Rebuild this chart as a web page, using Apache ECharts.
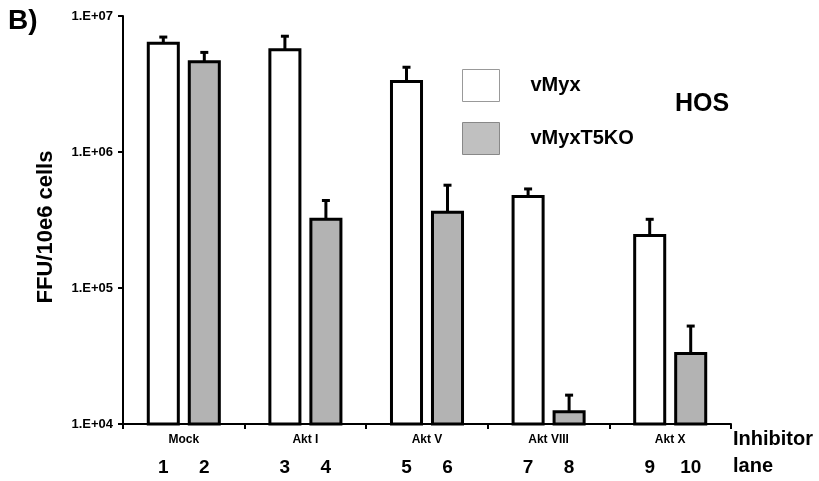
<!DOCTYPE html>
<html>
<head>
<meta charset="utf-8">
<script src="https://cdn.jsdelivr.net/npm/echarts@6/dist/echarts.min.js"></script>
<style>
  html, body { margin: 0; padding: 0; background: #fff; }
  #main { width: 819px; height: 481px; }
</style>
</head>
<body>
<div id="main"></div>
<script>
  // data
  const categories = ['Mock', 'Akt I', 'Akt V', 'Akt VIII', 'Akt X']
  const vMyx = [6.3e6, 5.65e6, 3.3e6, 4.7e5, 2.43e5]
  const vMyxSd = [0.7e6, 1.45e6, 0.9e6, 0.65e5, 0.77e5]
  const vMyxT5KO = [4.6e6, 3.2e5, 3.6e5, 1.23e4, 3.3e4]
  const vMyxT5KOSd = [0.8e6, 1.2e5, 2.1e5, 0.4e4, 1.95e4]
  const lanesA = ['1', '3', '5', '7', '9']
  const lanesB = ['2', '4', '6', '8', '10']
  const yTickLabels = { 4: '1.E+04', 5: '1.E+05', 6: '1.E+06', 7: '1.E+07' }
  const yMin = 1e4
  const yMax = 1e7

  const FONT = "'Liberation Sans', Arial, sans-serif"

  function makeData(vals, sds) {
    return vals.map((v, i) => [i, v, v + sds[i]])
  }

  // grouped bar with upper error bar, drawn through the axis scales
  function barRenderer(offsetFrac, fill, lanes) {
    return function (params, api) {
      const cat = api.value(0)
      const val = api.value(1)
      const err = api.value(2)
      const lane = lanes[params.dataIndex]
      const band = api.size([1, 0])[0]
      const base = api.coord([cat, yMin])
      const top = api.coord([cat, val])
      const errTop = api.coord([cat, err])
      const cx = base[0] + band * offsetFrac
      const w = band * 0.247
      return {
        type: 'group',
        children: [
          {
            type: 'line',
            shape: { x1: cx, y1: top[1], x2: cx, y2: errTop[1] },
            style: { stroke: '#000', lineWidth: 3 }
          },
          {
            type: 'line',
            shape: { x1: cx - 4, y1: errTop[1], x2: cx + 4, y2: errTop[1] },
            style: { stroke: '#000', lineWidth: 3 }
          },
          {
            type: 'rect',
            shape: { x: cx - w / 2, y: top[1], width: w, height: base[1] - top[1] },
            style: { fill: fill, stroke: '#000', lineWidth: 3 }
          },
          {
            type: 'text',
            style: {
              text: lane, x: cx, y: base[1] + 44,
              align: 'center', verticalAlign: 'middle',
              font: 'bold 19px ' + FONT, fill: '#000'
            }
          }
        ]
      }
    }
  }

  const chart = echarts.init(document.getElementById('main'))
  const option = {
    backgroundColor: '#fff',
    animation: false,
    grid: { left: 123, right: 88, top: 16, bottom: 57 },
    legend: {
      orient: 'vertical',
      left: 462,
      top: 69,
      padding: 0,
      itemWidth: 37,
      itemHeight: 32,
      itemGap: 20,
      textStyle: { fontFamily: FONT, fontWeight: 'bold', fontSize: 20, color: '#000', padding: [0, 0, 0, 26] },
      data: [
        { name: 'vMyx', icon: 'rect', itemStyle: { color: '#fff', borderColor: '#999', borderWidth: 1 } },
        { name: 'vMyxT5KO', icon: 'rect', itemStyle: { color: '#c0c0c0', borderColor: '#888', borderWidth: 1 } }
      ]
    },
    xAxis: {
      type: 'category',
      data: categories,
      boundaryGap: true,
      axisLine: { lineStyle: { color: '#000', width: 2 } },
      axisTick: { show: true, alignWithLabel: false, interval: 0, length: 5, lineStyle: { color: '#000', width: 2 } },
      axisLabel: { interval: 0, margin: 10, color: '#000', fontFamily: FONT, fontWeight: 'bold', fontSize: 12 },
      splitLine: { show: false }
    },
    yAxis: {
      type: 'log',
      logBase: 10,
      min: yMin,
      max: yMax,
      name: 'FFU/10e6 cells',
      nameLocation: 'middle',
      nameRotate: 90,
      nameGap: 66,
      nameTextStyle: { fontFamily: FONT, fontWeight: 'bold', fontSize: 22, color: '#000', padding: [0, 14, 0, 0] },
      axisLine: { show: true, lineStyle: { color: '#000', width: 2 } },
      axisTick: { show: true, length: 5, lineStyle: { color: '#000', width: 2 } },
      axisLabel: {
        margin: 10, color: '#000', fontFamily: FONT, fontWeight: 'bold', fontSize: 13,
        formatter: v => yTickLabels[Math.round(Math.log10(v))] || ''
      },
      splitLine: { show: false }
    },
    graphic: [
      { type: 'text', left: 8, top: 7, style: { text: 'B)', font: 'bold 28px ' + FONT, fill: '#000' } },
      { type: 'text', left: 675, top: 92, style: { text: 'HOS', font: 'bold 25px ' + FONT, fill: '#000' } },
      { type: 'text', left: 733, top: 429, style: { text: 'Inhibitor', font: 'bold 20px ' + FONT, fill: '#000' } },
      { type: 'text', left: 733, top: 456, style: { text: 'lane', font: 'bold 20px ' + FONT, fill: '#000' } }
    ],
    series: [
      {
        name: 'vMyx',
        type: 'custom',
        itemStyle: { color: '#fff', borderColor: '#999' },
        renderItem: barRenderer(-0.1686, '#fff', lanesA),
        encode: { x: 0, y: 1 },
        data: makeData(vMyx, vMyxSd)
      },
      {
        name: 'vMyxT5KO',
        type: 'custom',
        itemStyle: { color: '#c0c0c0', borderColor: '#888' },
        renderItem: barRenderer(0.1686, '#b3b3b3', lanesB),
        encode: { x: 0, y: 1 },
        data: makeData(vMyxT5KO, vMyxT5KOSd)
      }
    ]
  }
  chart.setOption(option)
</script>
</body>
</html>
